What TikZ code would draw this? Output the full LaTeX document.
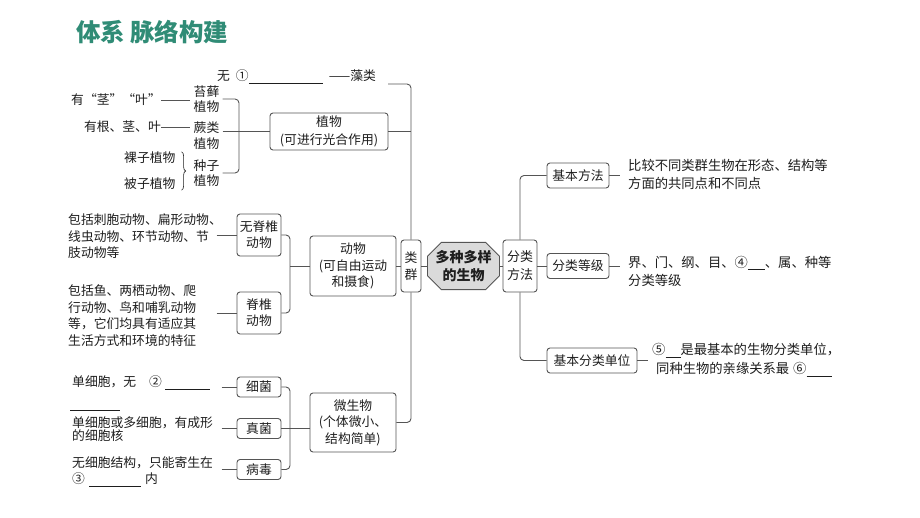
\documentclass[tikz,border=0pt]{standalone}
\usepackage{fontspec}
\setmainfont{Noto Sans CJK SC}
\usetikzlibrary{shapes.misc,decorations.pathreplacing}
\definecolor{lnc}{RGB}{85,85,85}
\definecolor{titlec}{RGB}{48,140,118}
\definecolor{octc}{RGB}{218,218,218}
\definecolor{txc}{RGB}{30,30,30}
\begin{document}
\begin{tikzpicture}[x=1pt,y=-1pt,
  every node/.style={text=txc},
  font=\fontsize{12.8}{16.5}\selectfont,
  box/.style={draw=lnc,line width=0.9pt,rounded corners=3pt,align=center,inner sep=1pt,fill=white},
  txt/.style={inner sep=0pt,align=left,anchor=west},
  conn/.style={draw=lnc,line width=0.9pt,rounded corners=4pt},
  ul/.style={draw=txc,line width=0.6pt}]
\useasboundingbox (0,0) rectangle (920,518);
\fill[white] (0,0) rectangle (920,518);

\node[anchor=west,inner sep=0pt,font=\fontsize{24.5}{28}\selectfont\bfseries,text=titlec] (title) at (76,32) {体系\hspace{5pt}脉络构建};

% ---------- plants
\node[txt] (zl) at (217,77) {无\hspace{6pt}①\rule[-3pt]{74pt}{0.6pt}\hspace{6pt}——藻类};
\coordinate (zle) at (388,84);
\node[box,minimum width=118pt,minimum height=37pt,font=\fontsize{12.8}{18}\selectfont] (zw) at (329,131.5) {植物\\(可进行光合作用)};
\node[inner sep=0pt,align=center,font=\fontsize{12.8}{15.5}\selectfont] (tx) at (206.5,99) {苔藓\\植物};
\node[inner sep=0pt,align=center,font=\fontsize{12.8}{15.5}\selectfont] (jl) at (206.5,135.5) {蕨类\\植物};
\node[inner sep=0pt,align=center,font=\fontsize{12.8}{15.5}\selectfont] (zz) at (206.5,173) {种子\\植物};
\node[txt,anchor=east] (yj) at (161,100) {有“茎”“叶”};
\node[txt,anchor=east] (yg) at (161,127) {有根、茎、叶};
\node[txt] (lz) at (124,158) {裸子植物};
\node[txt] (bz) at (124,184) {被子植物};
\coordinate (pb) at (239,131);
\draw[conn,shorten >=4pt] (yj.east) -- (yj.east -| tx.west);
\draw[conn,shorten >=4pt] (yg.east) -- (yg.east -| jl.west);
\draw[conn] ([xshift=3pt]tx.east) -| (pb) |- ([xshift=3pt]zz.east);
\draw[conn] ([xshift=3pt]jl.east |- zw.west) -- (zw.west);
\draw[draw=txc,line width=0.6pt,decorate,decoration={brace,amplitude=4pt}] ([xshift=6pt]lz.north east) -- ([xshift=6pt]bz.south east);

% ---------- animals
\node[box,minimum width=44pt,minimum height=42pt,font=\fontsize{12.8}{16}\selectfont] (wj) at (259,235) {无脊椎\\动物};
\node[box,minimum width=44pt,minimum height=42pt,font=\fontsize{12.8}{16}\selectfont] (jz) at (259,313) {脊椎\\动物};
\node[box,minimum width=86pt,minimum height=60pt] (dw) at (353,266) {动物\\(可自由运动\\和摄食)};
\coordinate (ab) at (290,266);
\draw[conn] (wj.east) -| (ab) |- (jz.east);
\draw[conn] (ab) -- (dw.west);
\node[txt] (t1) at (68,236.5) {包括刺胞动物、扁形动物、\\线虫动物、环节动物、节\\肢动物等};
\node[txt] (t2) at (68,315.5) {包括鱼、两栖动物、爬\\行动物、鸟和哺乳动物\\等，它们均具有适应其\\生活方式和环境的特征};
\draw[conn] ([xshift=-20pt]wj.west) -- (wj.west);
\draw[conn] ([xshift=-20pt]jz.west) -- (jz.west);

% ---------- microbes
\node[box,minimum width=44pt,minimum height=20pt] (xj) at (259,387) {细菌};
\node[box,minimum width=44pt,minimum height=20pt] (zj) at (259,428.5) {真菌};
\node[box,minimum width=44pt,minimum height=20pt] (bd) at (259,469.5) {病毒};
\node[box,minimum width=86pt,minimum height=59pt] (ws) at (353,422.5) {微生物\\(个体微小、\\结构简单)};
\coordinate (mb) at (290,428.5);
\draw[conn] (xj.east) -| (mb) |- (bd.east);
\draw[conn] (zj.east) -- (ws.west |- zj.east);
\node[txt] (m1) at (72,383) {单细胞，无\hspace{13pt}②\hspace{3pt}\rule[-3pt]{45pt}{0.6pt}};
\coordinate (u2a) at (70,410);
\coordinate (u2b) at (120,410);
\draw[ul] (u2a) -- (u2b);
\node[txt,font=\fontsize{12.8}{13}\selectfont] (m2) at (72,429.5) {单细胞或多细胞，有成形\\的细胞核};
\node[txt] (m3) at (72,471.5) {无细胞结构，只能寄生在\\③\hspace{4pt}\rule[-3pt]{52pt}{0.6pt}\hspace{4pt}内};
\draw[conn] ([xshift=-15pt]xj.west) -- (xj.west);
\draw[conn] ([xshift=-15pt]zj.west) -- (zj.west);
\draw[conn] ([xshift=-15pt]bd.west) -- (bd.west);

% ---------- trunk
\node[box,minimum width=20pt,minimum height=52pt,inner sep=0pt,font=\fontsize{12.8}{17}\selectfont] (lq) at (411,266) {类\\群};
\draw[conn] (zle) -| (lq.north);
\draw[conn] (zw.east) -- (zw.east -| lq.north);
\draw[conn] (dw.east) -- (lq.west);
\draw[conn] (lq.south) |- (ws.east);

% ---------- centre and right
\node[chamfered rectangle,chamfered rectangle xsep=7pt,chamfered rectangle ysep=7pt,draw=lnc,line width=0.9pt,fill=octc,minimum width=63pt,minimum height=47pt,inner sep=1pt,align=center,font=\fontsize{14}{18}\selectfont\bfseries] (oc) at (463.5,266) {多种多样\\的生物};
\node[box,minimum width=34pt,minimum height=52pt,inner sep=0pt,font=\fontsize{13}{18}\selectfont] (fl) at (520,266) {分类\\方法};
\draw[conn] (lq.east) -- (oc.west);
\draw[conn] (oc.east) -- (fl.west);
\node[box,minimum width=62pt,minimum height=25pt] (jb) at (578,175.5) {基本方法};
\node[box,minimum width=62pt,minimum height=25pt] (fj) at (578,266) {分类等级};
\node[box,minimum width=90pt,minimum height=25pt] (dj) at (592,360.5) {基本分类单位};
\draw[conn] (fl.north) |- (jb.west);
\draw[conn] (fl.east) -- (fj.west);
\draw[conn] (fl.south) |- (dj.west);
\node[txt,font=\fontsize{13.3}{18}\selectfont] (r1) at (628,174) {比较不同类群生物在形态、结构等\\方面的共同点和不同点};
\node[txt,font=\fontsize{13.3}{18}\selectfont] (r2) at (628,271) {界、门、纲、目、④\rule[-3pt]{17pt}{0.6pt}、属、种等\\分类等级};
\node[txt,font=\fontsize{13.3}{19}\selectfont] (r3) at (652,360) {⑤\rule[-3pt]{15pt}{0.6pt}是最基本的生物分类单位，\\\hspace{4pt}同种生物的亲缘关系最\hspace{4pt}⑥\rule[-3pt]{25pt}{0.6pt}};
\draw[conn,shorten >=8pt] (jb.east) -- (jb.east -| r1.west);
\draw[conn,shorten >=8pt] (fj.east) -- (fj.east -| r2.west);
\draw[conn,shorten >=4pt] (dj.east) -- (dj.east -| r3.west);
\end{tikzpicture}
\end{document}
